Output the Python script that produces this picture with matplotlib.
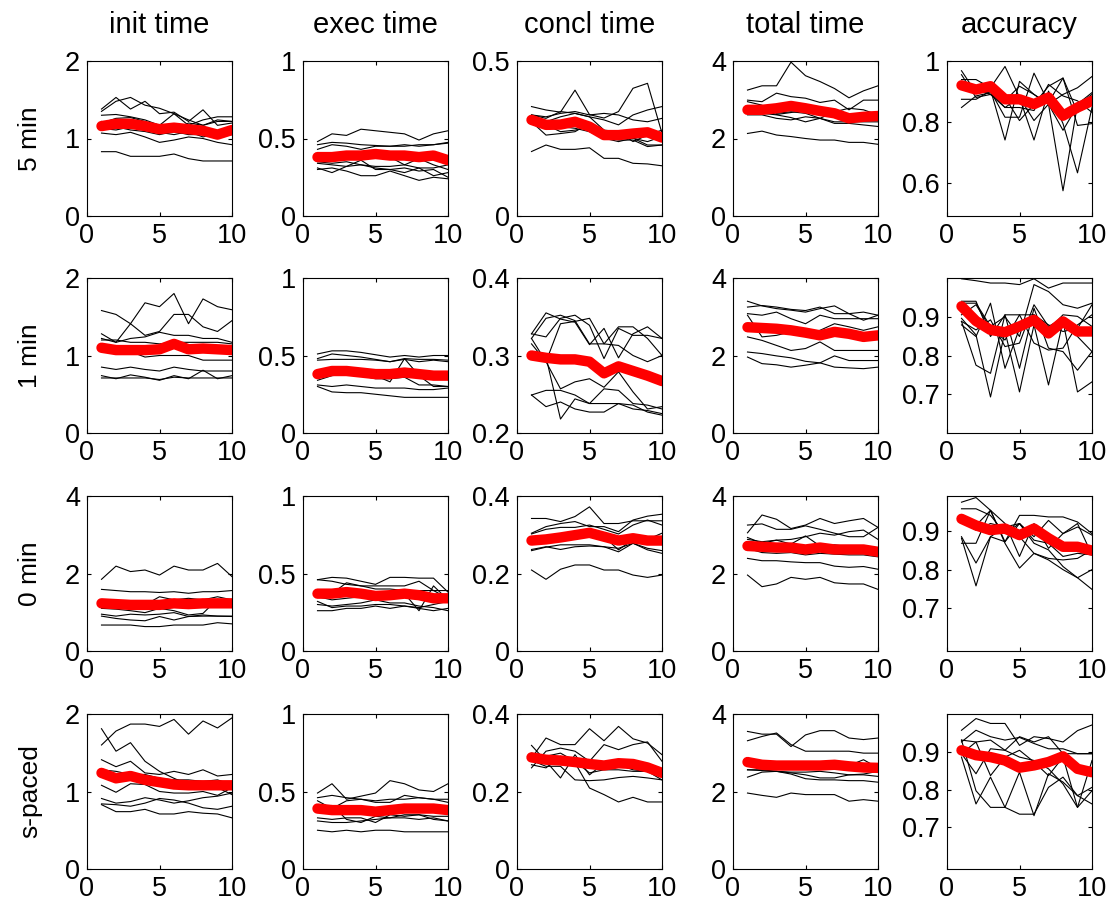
import numpy as np
import matplotlib.pyplot as plt
from matplotlib.ticker import FuncFormatter

plt.rcParams['font.family'] = ['Liberation Sans', 'DejaVu Sans']

sessions = list(range(1, 11))
col_titles = ['init time', 'exec time', 'concl time', 'total time', 'accuracy']
row_titles = ['5 min', '1 min', '0 min', 's-paced']

# ---- 5 min ----
init_5 = [
    [1.38, 1.53, 1.38, 1.48, 1.32, 1.34, 1.22, 1.37, 1.17, 1.20],
    [1.35, 1.48, 1.53, 1.43, 1.39, 1.32, 1.24, 1.17, 1.22, 1.22],
    [1.30, 1.31, 1.28, 1.24, 1.17, 1.32, 1.17, 1.24, 1.28, 1.28],
    [1.20, 1.26, 1.27, 1.22, 1.15, 1.09, 1.20, 1.17, 1.24, 1.22],
    [1.13, 1.11, 1.15, 1.11, 1.08, 1.05, 1.09, 1.02, 1.07, 1.11],
    [1.07, 1.05, 1.08, 1.02, 0.95, 0.98, 1.02, 1.00, 0.95, 0.92],
    [0.83, 0.83, 0.77, 0.77, 0.77, 0.80, 0.74, 0.71, 0.71, 0.71],
    [1.22, 1.15, 1.11, 1.09, 1.05, 1.09, 1.05, 1.05, 1.02, 1.05],
]
init_5_mean = [1.16, 1.19, 1.19, 1.16, 1.12, 1.14, 1.12, 1.10, 1.05, 1.11]
exec_5 = [
    [0.48, 0.53, 0.52, 0.56, 0.55, 0.54, 0.53, 0.49, 0.53, 0.55],
    [0.46, 0.475, 0.47, 0.46, 0.455, 0.45, 0.46, 0.45, 0.46, 0.475],
    [0.43, 0.46, 0.45, 0.43, 0.45, 0.45, 0.45, 0.46, 0.46, 0.47],
    [0.37, 0.39, 0.37, 0.38, 0.39, 0.38, 0.33, 0.37, 0.33, 0.30],
    [0.34, 0.33, 0.32, 0.33, 0.32, 0.32, 0.33, 0.31, 0.31, 0.33],
    [0.31, 0.28, 0.32, 0.36, 0.30, 0.30, 0.28, 0.31, 0.26, 0.28],
    [0.30, 0.31, 0.29, 0.26, 0.26, 0.29, 0.26, 0.23, 0.25, 0.24],
    [0.35, 0.34, 0.35, 0.33, 0.31, 0.30, 0.31, 0.29, 0.30, 0.25],
]
exec_5_mean = [0.38, 0.38, 0.39, 0.39, 0.40, 0.39, 0.39, 0.38, 0.39, 0.36]
concl_5 = [
    [0.353, 0.342, 0.335, 0.406, 0.327, 0.316, 0.337, 0.412, 0.428, 0.267],
    [0.326, 0.315, 0.337, 0.331, 0.320, 0.310, 0.294, 0.326, 0.342, 0.353],
    [0.320, 0.304, 0.320, 0.331, 0.320, 0.277, 0.272, 0.240, 0.261, 0.277],
    [0.304, 0.261, 0.266, 0.272, 0.299, 0.256, 0.245, 0.245, 0.224, 0.229],
    [0.315, 0.294, 0.272, 0.277, 0.288, 0.251, 0.240, 0.251, 0.229, 0.229],
    [0.299, 0.288, 0.288, 0.283, 0.272, 0.251, 0.256, 0.251, 0.240, 0.256],
    [0.208, 0.229, 0.215, 0.215, 0.220, 0.186, 0.186, 0.170, 0.168, 0.162],
    [0.326, 0.320, 0.331, 0.337, 0.326, 0.331, 0.326, 0.310, 0.304, 0.315],
]
concl_5_mean = [0.310, 0.294, 0.295, 0.304, 0.288, 0.261, 0.261, 0.266, 0.270, 0.253]
total_5 = [
    [3.25, 3.36, 3.36, 3.97, 3.62, 3.47, 3.29, 3.05, 3.23, 3.36],
    [2.99, 2.95, 3.17, 3.08, 3.04, 2.93, 2.99, 2.74, 2.99, 2.99],
    [2.95, 2.86, 2.65, 2.69, 2.65, 2.52, 2.69, 2.78, 2.74, 2.61],
    [2.82, 2.65, 2.61, 2.54, 2.43, 2.52, 2.43, 2.43, 2.43, 2.43],
    [2.61, 2.61, 2.52, 2.48, 2.56, 2.52, 2.39, 2.39, 2.35, 2.31],
    [2.13, 2.19, 2.09, 2.05, 2.00, 1.96, 1.96, 1.90, 1.90, 1.85],
    [2.69, 2.74, 2.62, 2.67, 2.74, 2.61, 2.56, 2.61, 2.65, 2.52],
]
total_5_mean = [2.74, 2.74, 2.78, 2.84, 2.78, 2.71, 2.65, 2.52, 2.56, 2.58]
acc_5 = [
    [0.968, 0.896, 0.906, 0.740, 0.933, 0.890, 0.858, 0.573, 0.858, 0.896],
    [0.939, 0.939, 0.912, 0.982, 0.880, 0.740, 0.901, 0.794, 0.632, 0.847],
    [0.874, 0.874, 0.901, 0.815, 0.815, 0.960, 0.863, 0.944, 0.831, 0.874],
    [0.847, 0.885, 0.896, 0.847, 0.847, 0.837, 0.923, 0.885, 0.869, 0.831],
    [0.928, 0.906, 0.890, 0.847, 0.880, 0.804, 0.858, 0.772, 0.853, 0.890],
    [0.955, 0.880, 0.890, 0.880, 0.804, 0.858, 0.917, 0.944, 0.788, 0.794],
    [0.912, 0.912, 0.890, 0.869, 0.917, 0.890, 0.858, 0.890, 0.912, 0.949],
]
acc_5_mean = [0.920, 0.906, 0.917, 0.874, 0.874, 0.858, 0.880, 0.820, 0.847, 0.869]

# ---- 1 min ----
init_1 = [
    [1.58, 1.53, 1.41, 1.68, 1.63, 1.80, 1.41, 1.73, 1.63, 1.59],
    [1.28, 1.17, 1.41, 1.26, 1.31, 1.53, 1.53, 1.37, 1.31, 1.45],
    [1.22, 1.17, 1.22, 1.24, 1.30, 1.26, 1.26, 1.22, 1.22, 1.17],
    [1.20, 1.20, 1.17, 1.17, 1.15, 1.17, 1.17, 1.17, 1.17, 1.15],
    [1.09, 1.07, 1.05, 0.98, 1.00, 1.00, 1.00, 0.94, 0.94, 0.94],
    [0.85, 0.82, 0.85, 0.82, 0.80, 0.85, 0.82, 0.80, 0.80, 0.80],
    [0.74, 0.70, 0.75, 0.72, 0.68, 0.74, 0.70, 0.81, 0.70, 0.74],
    [0.71, 0.71, 0.71, 0.71, 0.69, 0.72, 0.71, 0.71, 0.71, 0.71],
]
init_1_mean = [1.10, 1.07, 1.07, 1.07, 1.08, 1.15, 1.08, 1.09, 1.08, 1.07]
exec_1 = [
    [0.51, 0.53, 0.53, 0.52, 0.505, 0.49, 0.50, 0.49, 0.50, 0.50],
    [0.48, 0.51, 0.50, 0.49, 0.475, 0.46, 0.48, 0.475, 0.475, 0.47],
    [0.47, 0.475, 0.475, 0.475, 0.47, 0.46, 0.475, 0.46, 0.47, 0.46],
    [0.37, 0.39, 0.39, 0.38, 0.37, 0.33, 0.48, 0.37, 0.30, 0.30],
    [0.34, 0.37, 0.38, 0.37, 0.35, 0.35, 0.36, 0.31, 0.31, 0.30],
    [0.31, 0.30, 0.31, 0.30, 0.29, 0.29, 0.29, 0.28, 0.28, 0.29],
    [0.30, 0.265, 0.26, 0.26, 0.25, 0.24, 0.23, 0.23, 0.23, 0.23],
]
exec_1_mean = [0.38, 0.40, 0.40, 0.39, 0.38, 0.38, 0.39, 0.38, 0.37, 0.37]
concl_1 = [
    [0.328, 0.355, 0.347, 0.343, 0.314, 0.335, 0.297, 0.328, 0.337, 0.322],
    [0.322, 0.348, 0.352, 0.345, 0.315, 0.315, 0.337, 0.337, 0.322, 0.300],
    [0.315, 0.292, 0.341, 0.344, 0.348, 0.315, 0.313, 0.300, 0.292, 0.300],
    [0.302, 0.298, 0.218, 0.244, 0.238, 0.257, 0.255, 0.238, 0.236, 0.231],
    [0.249, 0.234, 0.240, 0.231, 0.227, 0.227, 0.238, 0.236, 0.227, 0.223],
    [0.249, 0.255, 0.255, 0.249, 0.238, 0.238, 0.238, 0.231, 0.229, 0.225],
    [0.322, 0.292, 0.257, 0.266, 0.270, 0.259, 0.279, 0.253, 0.231, 0.234],
    [0.328, 0.324, 0.348, 0.352, 0.339, 0.296, 0.335, 0.326, 0.326, 0.322],
]
concl_1_mean = [0.300, 0.297, 0.295, 0.295, 0.292, 0.277, 0.286, 0.280, 0.274, 0.267]
total_1 = [
    [3.40, 3.28, 3.21, 3.17, 3.12, 3.21, 3.28, 3.08, 2.91, 3.04],
    [3.25, 3.29, 3.25, 3.19, 3.16, 3.25, 3.08, 3.08, 3.12, 3.04],
    [3.08, 3.04, 3.12, 2.95, 2.82, 3.04, 2.95, 2.95, 2.95, 2.95],
    [3.04, 2.48, 2.52, 2.61, 2.59, 2.65, 2.82, 2.74, 2.65, 2.74],
    [2.48, 2.39, 2.26, 2.13, 2.18, 2.35, 2.13, 2.13, 2.13, 2.13],
    [2.09, 2.05, 1.99, 1.94, 1.85, 1.81, 1.99, 1.87, 1.87, 1.87],
    [1.96, 1.79, 1.76, 1.70, 1.75, 1.81, 1.70, 1.68, 1.66, 1.70],
]
total_1_mean = [2.73, 2.71, 2.69, 2.65, 2.59, 2.52, 2.61, 2.56, 2.48, 2.52]
acc_1 = [
    [0.998, 0.993, 0.987, 0.987, 0.983, 0.998, 0.974, 0.987, 0.987, 0.987],
    [0.935, 0.935, 0.875, 0.900, 0.849, 0.983, 0.965, 0.931, 0.922, 0.935],
    [0.896, 0.853, 0.693, 0.862, 0.706, 0.879, 0.724, 0.888, 0.706, 0.732],
    [0.888, 0.775, 0.754, 0.905, 0.767, 0.922, 0.819, 0.810, 0.762, 0.810],
    [0.905, 0.931, 0.870, 0.840, 0.905, 0.832, 0.814, 0.819, 0.879, 0.905],
    [0.879, 0.849, 0.935, 0.767, 0.870, 0.905, 0.879, 0.862, 0.870, 0.931],
    [0.940, 0.940, 0.849, 0.905, 0.905, 0.905, 0.866, 0.905, 0.901, 0.875],
    [0.888, 0.866, 0.892, 0.823, 0.832, 0.931, 0.875, 0.896, 0.849, 0.810],
]
acc_1_mean = [0.927, 0.889, 0.866, 0.860, 0.875, 0.892, 0.857, 0.888, 0.862, 0.862]

# ---- 0 min ----
init_0 = [
    [1.85, 2.19, 2.05, 2.09, 1.96, 2.19, 2.09, 2.09, 2.26, 1.92],
    [1.59, 1.56, 1.53, 1.53, 1.51, 1.53, 1.49, 1.53, 1.53, 1.56],
    [1.32, 1.27, 1.23, 1.19, 1.40, 1.32, 1.36, 1.32, 1.40, 1.32],
    [1.10, 1.08, 1.04, 0.99, 1.10, 1.04, 0.93, 0.97, 1.34, 1.19],
    [0.95, 0.90, 0.95, 0.93, 0.95, 0.99, 0.89, 0.93, 0.90, 0.89],
    [0.90, 0.84, 0.80, 0.78, 0.89, 0.80, 0.89, 0.90, 0.90, 0.90],
    [0.67, 0.67, 0.67, 0.63, 0.63, 0.67, 0.67, 0.67, 0.73, 0.70],
]
init_0_mean = [1.23, 1.21, 1.19, 1.19, 1.19, 1.23, 1.21, 1.23, 1.23, 1.23]
exec_0 = [
    [0.46, 0.475, 0.47, 0.45, 0.43, 0.475, 0.475, 0.47, 0.47, 0.38],
    [0.46, 0.45, 0.43, 0.42, 0.42, 0.42, 0.42, 0.45, 0.39, 0.34],
    [0.39, 0.37, 0.44, 0.42, 0.40, 0.40, 0.39, 0.39, 0.39, 0.39],
    [0.35, 0.33, 0.34, 0.35, 0.34, 0.35, 0.37, 0.26, 0.42, 0.33],
    [0.32, 0.28, 0.29, 0.29, 0.30, 0.30, 0.29, 0.28, 0.30, 0.32],
    [0.26, 0.26, 0.275, 0.275, 0.29, 0.275, 0.29, 0.275, 0.26, 0.275],
    [0.30, 0.29, 0.30, 0.31, 0.33, 0.31, 0.31, 0.29, 0.28, 0.26],
]
exec_0_mean = [0.37, 0.37, 0.38, 0.37, 0.355, 0.36, 0.37, 0.36, 0.34, 0.34]
concl_0 = [
    [0.342, 0.342, 0.334, 0.347, 0.372, 0.329, 0.329, 0.336, 0.336, 0.336],
    [0.304, 0.321, 0.329, 0.334, 0.321, 0.321, 0.308, 0.338, 0.348, 0.353],
    [0.302, 0.314, 0.319, 0.319, 0.325, 0.314, 0.302, 0.325, 0.338, 0.325],
    [0.280, 0.291, 0.286, 0.291, 0.295, 0.295, 0.261, 0.288, 0.288, 0.304],
    [0.262, 0.269, 0.262, 0.269, 0.271, 0.269, 0.256, 0.278, 0.265, 0.259],
    [0.259, 0.268, 0.274, 0.274, 0.274, 0.269, 0.265, 0.278, 0.261, 0.252],
    [0.209, 0.185, 0.211, 0.222, 0.222, 0.209, 0.209, 0.196, 0.190, 0.196],
]
concl_0_mean = [0.285, 0.288, 0.293, 0.299, 0.305, 0.295, 0.285, 0.291, 0.285, 0.285]
total_0 = [
    [3.05, 3.51, 3.40, 3.16, 3.25, 3.42, 3.29, 3.36, 3.42, 3.19],
    [3.25, 3.28, 3.14, 3.14, 3.23, 3.14, 3.04, 2.95, 2.95, 3.19],
    [2.93, 2.78, 2.86, 2.88, 2.95, 3.04, 2.99, 3.08, 3.12, 2.88],
    [2.88, 2.82, 2.86, 2.76, 2.97, 2.71, 2.74, 2.69, 2.65, 2.65],
    [2.65, 2.54, 2.52, 2.54, 2.48, 2.52, 2.50, 2.48, 2.48, 2.43],
    [2.39, 2.33, 2.33, 2.30, 2.28, 2.28, 2.19, 2.16, 2.18, 2.11],
    [1.96, 1.66, 1.73, 1.90, 1.85, 1.90, 1.76, 1.73, 1.73, 1.59],
]
total_0_mean = [2.71, 2.69, 2.67, 2.67, 2.62, 2.67, 2.62, 2.62, 2.62, 2.56]
acc_0 = [
    [0.974, 0.986, 0.953, 0.872, 0.940, 0.940, 0.936, 0.936, 0.923, 0.893],
    [0.957, 0.957, 0.940, 0.893, 0.919, 0.885, 0.927, 0.893, 0.910, 0.889],
    [0.940, 0.914, 0.953, 0.919, 0.834, 0.919, 0.855, 0.893, 0.919, 0.838],
    [0.881, 0.758, 0.885, 0.872, 0.919, 0.868, 0.851, 0.808, 0.779, 0.800],
    [0.868, 0.868, 0.953, 0.868, 0.804, 0.842, 0.829, 0.825, 0.829, 0.851],
    [0.885, 0.817, 0.885, 0.910, 0.919, 0.876, 0.868, 0.834, 0.842, 0.838],
    [0.923, 0.902, 0.919, 0.910, 0.885, 0.842, 0.825, 0.800, 0.779, 0.749],
]
acc_0_mean = [0.931, 0.914, 0.902, 0.906, 0.889, 0.906, 0.881, 0.859, 0.859, 0.849]

# ---- self-paced ----
init_s = [
    [1.60, 1.78, 1.87, 1.87, 1.84, 1.93, 1.74, 1.91, 1.82, 1.95],
    [1.81, 1.52, 1.63, 1.39, 1.26, 1.17, 1.09, 1.07, 1.05, 0.96],
    [1.41, 1.32, 1.39, 1.24, 1.22, 1.26, 1.22, 1.28, 1.20, 1.22],
    [1.28, 1.26, 1.22, 1.22, 1.17, 1.15, 1.15, 1.13, 1.15, 1.09],
    [1.08, 0.99, 1.10, 1.09, 1.00, 0.98, 0.98, 1.00, 0.95, 1.05],
    [0.91, 0.85, 0.87, 0.92, 0.89, 0.85, 0.88, 0.92, 0.94, 0.98],
    [0.84, 0.83, 0.81, 0.85, 0.91, 0.89, 0.85, 0.79, 0.77, 0.81],
    [0.83, 0.74, 0.74, 0.77, 0.71, 0.71, 0.74, 0.72, 0.71, 0.66],
]
init_s_mean = [1.24, 1.17, 1.20, 1.15, 1.12, 1.09, 1.08, 1.08, 1.08, 1.08]
exec_s = [
    [0.49, 0.55, 0.45, 0.47, 0.49, 0.57, 0.55, 0.51, 0.50, 0.55],
    [0.46, 0.475, 0.46, 0.45, 0.43, 0.43, 0.475, 0.46, 0.45, 0.43],
    [0.44, 0.39, 0.44, 0.45, 0.44, 0.45, 0.45, 0.46, 0.45, 0.45],
    [0.39, 0.41, 0.32, 0.30, 0.34, 0.33, 0.35, 0.35, 0.32, 0.31],
    [0.33, 0.32, 0.33, 0.33, 0.30, 0.35, 0.34, 0.35, 0.34, 0.34],
    [0.31, 0.30, 0.30, 0.31, 0.32, 0.33, 0.33, 0.32, 0.33, 0.31],
    [0.25, 0.24, 0.25, 0.24, 0.25, 0.25, 0.24, 0.24, 0.24, 0.24],
]
exec_s_mean = [0.39, 0.38, 0.38, 0.38, 0.37, 0.38, 0.39, 0.39, 0.39, 0.38]
concl_s = [
    [0.286, 0.338, 0.321, 0.321, 0.362, 0.331, 0.368, 0.336, 0.325, 0.295],
    [0.261, 0.304, 0.312, 0.304, 0.278, 0.321, 0.308, 0.321, 0.328, 0.278],
    [0.319, 0.278, 0.235, 0.295, 0.243, 0.273, 0.269, 0.256, 0.252, 0.256],
    [0.299, 0.291, 0.299, 0.278, 0.248, 0.256, 0.256, 0.252, 0.252, 0.230],
    [0.280, 0.265, 0.265, 0.230, 0.228, 0.230, 0.236, 0.239, 0.235, 0.230],
    [0.269, 0.261, 0.291, 0.274, 0.209, 0.192, 0.173, 0.185, 0.173, 0.173],
]
concl_s_mean = [0.288, 0.282, 0.280, 0.276, 0.271, 0.267, 0.273, 0.271, 0.262, 0.248]
total_s = [
    [3.55, 3.48, 3.48, 3.16, 3.46, 3.57, 3.57, 3.38, 3.34, 3.38],
    [3.31, 3.42, 3.51, 3.21, 3.04, 3.04, 3.04, 3.04, 2.99, 2.99],
    [2.80, 2.76, 2.65, 2.67, 2.62, 2.73, 2.65, 2.67, 2.82, 2.61],
    [2.56, 2.56, 2.52, 2.50, 2.50, 2.52, 2.48, 2.43, 2.45, 2.52],
    [2.37, 2.50, 2.52, 2.48, 2.43, 2.35, 2.35, 2.43, 2.43, 2.39],
    [2.56, 2.54, 2.52, 2.45, 2.33, 2.30, 2.30, 2.28, 2.28, 2.24],
    [1.96, 1.90, 1.85, 1.96, 1.92, 1.92, 1.92, 1.75, 1.79, 1.75],
]
total_s_mean = [2.76, 2.69, 2.67, 2.67, 2.67, 2.67, 2.69, 2.65, 2.62, 2.61]
acc_s = [
    [0.957, 0.988, 0.975, 0.975, 0.917, 0.940, 0.935, 0.926, 0.956, 0.971],
    [0.926, 0.957, 0.940, 0.931, 0.938, 0.922, 0.908, 0.908, 0.895, 0.895],
    [0.931, 0.926, 0.931, 0.904, 0.940, 0.926, 0.940, 0.895, 0.895, 0.895],
    [0.895, 0.926, 0.837, 0.886, 0.904, 0.873, 0.837, 0.886, 0.753, 0.797],
    [0.886, 0.762, 0.833, 0.753, 0.735, 0.735, 0.806, 0.833, 0.784, 0.806],
    [0.931, 0.797, 0.753, 0.753, 0.846, 0.731, 0.842, 0.820, 0.784, 0.762],
    [0.895, 0.842, 0.908, 0.904, 0.886, 0.877, 0.855, 0.815, 0.753, 0.877],
]
acc_s_mean = [0.904, 0.891, 0.886, 0.877, 0.858, 0.864, 0.873, 0.888, 0.855, 0.846]

runs = [
    [init_5, exec_5, concl_5, total_5, acc_5],
    [init_1, exec_1, concl_1, total_1, acc_1],
    [init_0, exec_0, concl_0, total_0, acc_0],
    [init_s, exec_s, concl_s, total_s, acc_s],
]
means = [
    [init_5_mean, exec_5_mean, concl_5_mean, total_5_mean, acc_5_mean],
    [init_1_mean, exec_1_mean, concl_1_mean, total_1_mean, acc_1_mean],
    [init_0_mean, exec_0_mean, concl_0_mean, total_0_mean, acc_0_mean],
    [init_s_mean, exec_s_mean, concl_s_mean, total_s_mean, acc_s_mean],
]

# y limits and ticks per panel
ylims = [
    [(0, 2), (0, 1), (0, 0.5), (0, 4), (0.49, 1.0)],
    [(0, 2), (0, 1), (0.2, 0.4), (0, 4), (0.6, 1.0)],
    [(0, 4), (0, 1), (0, 0.4), (0, 4), (0.59, 0.99)],
    [(0, 2), (0, 1), (0, 0.4), (0, 4), (0.59, 1.0)],
]
yticks = [
    [[0, 1, 2], [0, 0.5, 1], [0, 0.5], [0, 2, 4], [0.6, 0.8, 1.0]],
    [[0, 1, 2], [0, 0.5, 1], [0.2, 0.3, 0.4], [0, 2, 4], [0.7, 0.8, 0.9]],
    [[0, 2, 4], [0, 0.5, 1], [0, 0.2, 0.4], [0, 2, 4], [0.7, 0.8, 0.9]],
    [[0, 1, 2], [0, 0.5, 1], [0, 0.2, 0.4], [0, 2, 4], [0.7, 0.8, 0.9]],
]

W, H = 1110, 906
fig = plt.figure(figsize=(W / 100, H / 100), dpi=100)

col_left = [87, 303, 517, 733, 947]
row_top = [61, 278, 496, 714]
aw, ah = 145, 155
fmt = FuncFormatter(lambda v, p: '%g' % round(v, 3))

for r in range(4):
    for c in range(5):
        ax = fig.add_axes([col_left[c] / W, 1 - (row_top[r] + ah) / H, aw / W, ah / H])
        for run in runs[r][c]:
            ax.plot(sessions, run, color='black', lw=0.8)
        ax.plot(sessions, means[r][c], color='#ff0000', lw=7.5, solid_capstyle='round',
                solid_joinstyle='round')
        ax.set_xlim(0, 10)
        ax.set_ylim(*ylims[r][c])
        ax.set_xticks([0, 5, 10])
        ax.set_yticks(yticks[r][c])
        ax.yaxis.set_major_formatter(fmt)
        ax.tick_params(direction='in', length=3, width=0.8, top=True, right=True,
                       labelsize=19.5, pad=5)
        for s in ax.spines.values():
            s.set_linewidth(0.8)

# column titles and row labels
for c in range(5):
    fig.text((col_left[c] + aw / 2) / W, 1 - 25 / H, col_titles[c],
             ha='center', va='center', fontsize=21)
for r in range(4):
    fig.text(30 / W, 1 - (row_top[r] + ah / 2) / H, row_titles[r],
             ha='center', va='center', rotation=90, fontsize=19)

fig.savefig('out.png', dpi=100)
